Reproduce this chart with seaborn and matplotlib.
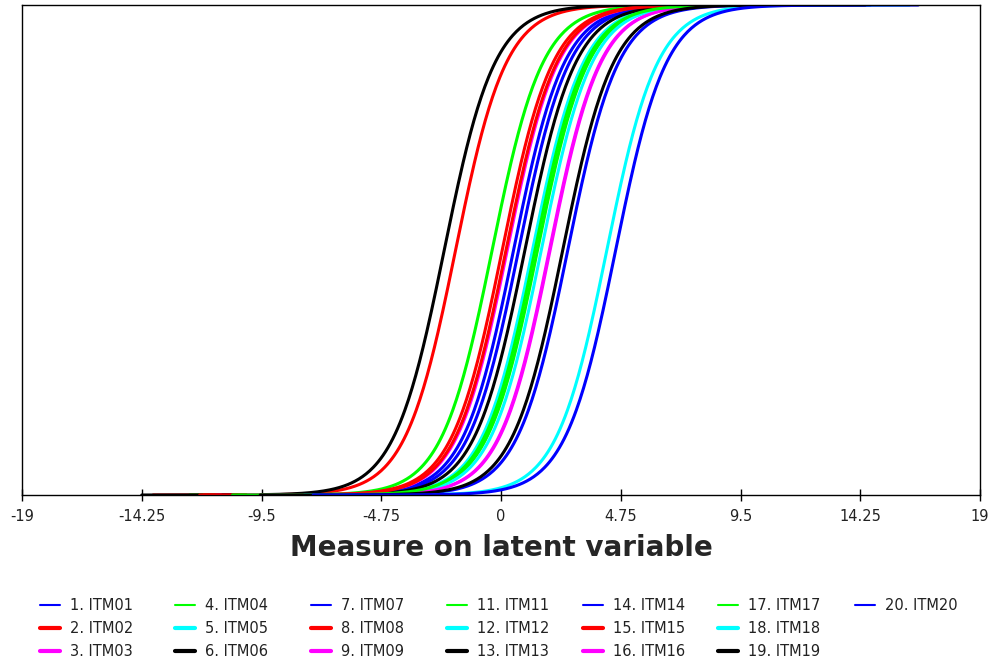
#!/usr/bin/env python3

import matplotlib.pyplot as plt
from matplotlib.lines import Line2D
import numpy as np
import pandas as pd
import seaborn as sns

sns.set_style('white')
plt.rcParams['font.family'] = ['DejaVu Sans']

# item locations (P = 0.5 crossing)
items = ['1. ITM01', '2. ITM02', '3. ITM03', '4. ITM04', '5. ITM05', '6. ITM06',
         '7. ITM07', '8. ITM08', '9. ITM09', '11. ITM11', '12. ITM12', '13. ITM13',
         '14. ITM14', '15. ITM15', '16. ITM16', '17. ITM17', '18. ITM18', '19. ITM19',
         '20. ITM20']
locations = [0.5, -1.8, 0.25, -0.35, 1.25, -2.25,
             0.7, 0.05, 1.92, 1.45, 1.6, 0.95,
             2.65, 0.2, 1.95, 1.35, 4.2, 2.45,
             4.55]
colours = ['#0000ff', '#ff0000', '#ff00ff', '#00ff00', '#00ffff', '#000000'] * 4
colours = colours[:len(items)]
# blue / green handles look thin in the key, the rest thick
legend_widths = [1.5 if c in ('#0000ff', '#00ff00') else 3 for c in colours]

xticks = [-19, -14.25, -9.5, -4.75, 0, 4.75, 9.5, 14.25, 19]
legend_cols_px = [40, 175, 311, 447, 583, 718, 855]

# Rasch item characteristic curves, each drawn over location +/- 12
rows = []
for name, b in zip(items, locations):
    theta = np.linspace(b - 12, b + 12, 500)
    rows.append(pd.DataFrame({'item': name, 'theta': theta,
                              'p': 1 / (1 + np.exp(-(theta - b)))}))
df = pd.concat(rows, ignore_index=True)

fig = plt.figure(figsize=(9.92, 6.66), dpi=100)
ax = fig.add_axes([22 / 992, 1 - 495 / 666, 958 / 992, 490 / 666])

sns.lineplot(ax=ax, data=df, x='theta', y='p', hue='item', hue_order=items,
             palette=dict(zip(items, colours)), estimator=None, sort=False,
             linewidth=2.2, legend=False)

ax.set_xlim(-19, 19)
ax.set_ylim(0, 1)
ax.set_xticks(xticks)
ax.set_xticklabels(['{:g}'.format(t) for t in xticks], fontsize=10.5, color='#222222')
ax.set_yticks([])
ax.set_ylabel(None)
ax.tick_params(axis='x', bottom=True, direction='inout', length=8, width=1,
               color='black', pad=6)
ax.set_xlabel('Measure on latent variable', fontsize=20, fontweight='bold', labelpad=7)
for s in ax.spines.values():
    s.set_color('black')
    s.set_linewidth(1)

handles = [Line2D([], [], color=c, lw=w) for c, w in zip(colours, legend_widths)]
# one key per column, three rows each, so item 20 sits alone in the last column
for i, xpx in enumerate(legend_cols_px):
    fig.legend(handles[3 * i:3 * i + 3], items[3 * i:3 * i + 3], ncol=1, frameon=False,
               loc='upper left', bbox_to_anchor=(xpx / 992, 1 - 598 / 666),
               borderpad=0, borderaxespad=0, fontsize=10.5, handlelength=1.37,
               handletextpad=0.68, labelspacing=0.55, labelcolor='#222222')

plt.savefig('out.png', dpi=100)
